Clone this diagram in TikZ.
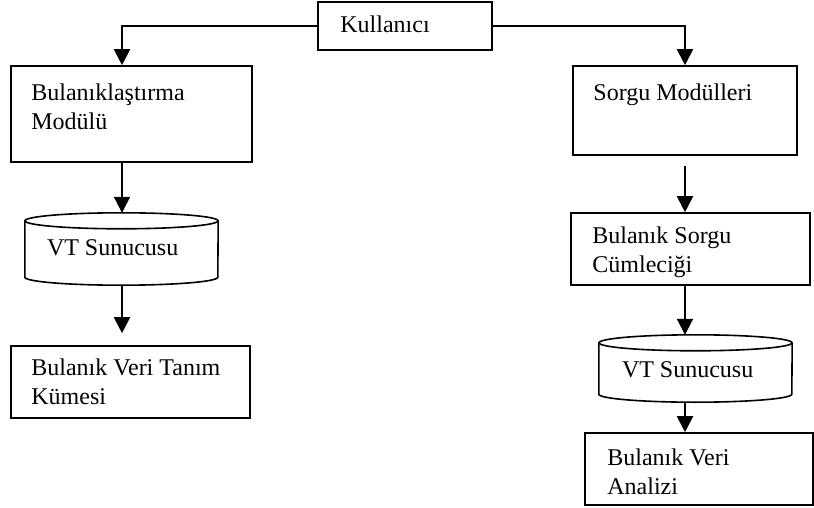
\documentclass[tikz,border=0pt]{standalone}
\usepackage{fontspec}
\setmainfont{Liberation Serif}
\usetikzlibrary{calc, positioning}
\usetikzlibrary{arrows.meta}

\tikzset{
  kutu/.style={draw=black, line width=1.6pt, inner sep=0pt},
  vtdb/.style={inner sep=0pt},
  vtcizgi/.style={draw=black, line width=1.6pt},
  yazi/.style={anchor=north west, inner sep=0pt, align=left, font=\fontsize{24}{29}\selectfont},
  ok/.style={-{Triangle[length=16pt, width=16pt]}, line width=2pt, black}
}

\begin{document}
\begin{tikzpicture}[x=1pt, y=-1pt]
\useasboundingbox (0,0) rectangle (814,508);
\def\solx{122}
\def\sagx{685}
\def\vtrx{96.5pt}
\def\vtry{8pt}
\coordinate (lcol) at (\solx,0);
\coordinate (rcol) at (\sagx,0);

% kutular
\node[kutu, minimum width=174pt, minimum height=48pt] (kul) at (405,26) {};
\node[kutu, minimum width=241pt, minimum height=96pt] (bmod) at (131.5,114) {};
\node[kutu, minimum width=224pt, minimum height=89pt] (smod) at (685,110.5) {};
\node[vtdb, minimum width=193pt, minimum height=72pt] (vt1) at (121.5,249) {};
\node[kutu, minimum width=239pt, minimum height=72pt] (bvtk) at (130.5,382) {};
\node[kutu, minimum width=239pt, minimum height=72pt] (bsc) at (690.5,249) {};
\node[vtdb, minimum width=193pt, minimum height=67pt] (vt2) at (695.5,368.5) {};
\node[kutu, minimum width=228pt, minimum height=72pt] (bva) at (699,469) {};

% silindirler
\foreach \v in {vt1, vt2} {
  \draw[vtcizgi] ($(\v.north)+(0,8)$) ellipse [x radius=\vtrx, y radius=\vtry];
  \draw[vtcizgi] ($(\v.north west)+(0,8)$) -- ($(\v.south west)+(0,-8)$)
    arc[start angle=180, end angle=360, x radius=\vtrx, y radius=\vtry]
    -- ($(\v.north east)+(0,8)$);
}

% yazilar
\node[yazi] (kult) at ($(kul.north west)+(23,14)$) {Kullanıcı};
\node[yazi] (bmodt) at ($(bmod.north west)+(21,18)$) {Bulanıklaştırma\\Modülü};
\node[yazi] (smodt) at ($(smod.north west)+(21,18)$) {Sorgu Modülleri};
\node[yazi] (vt1t) at ($(vt1.north west)+(22,27)$) {VT Sunucusu};
\node[yazi] (bvtkt) at ($(bvtk.north west)+(21,13)$) {Bulanık Veri Tanım\\Kümesi};
\node[yazi] (bsct) at ($(bsc.north west)+(22,14)$) {Bulanık Sorgu\\Cümleciği};
\node[yazi] (vt2t) at ($(vt2.north west)+(23,27)$) {VT Sunucusu};
\node[yazi] (bvat) at ($(bva.north west)+(23,16)$) {Bulanık Veri\\Analizi};

% oklar
\draw[ok] (kul.west) -| (lcol |- bmod.north);
\draw[ok] (kul.east) -| (rcol |- smod.north);
\draw[ok] (lcol |- bmod.south) -- (lcol |- vt1.north);
\draw[ok, shorten >=12pt] (lcol |- vt1.south) -- (lcol |- bvtk.north);
\draw[ok, shorten <=10pt] (rcol |- smod.south) -- (rcol |- bsc.north);
\draw[ok] (rcol |- bsc.south) -- (rcol |- vt2.north);
\draw[ok] (rcol |- vt2.south) -- (rcol |- bva.north);
\end{tikzpicture}
\end{document}
